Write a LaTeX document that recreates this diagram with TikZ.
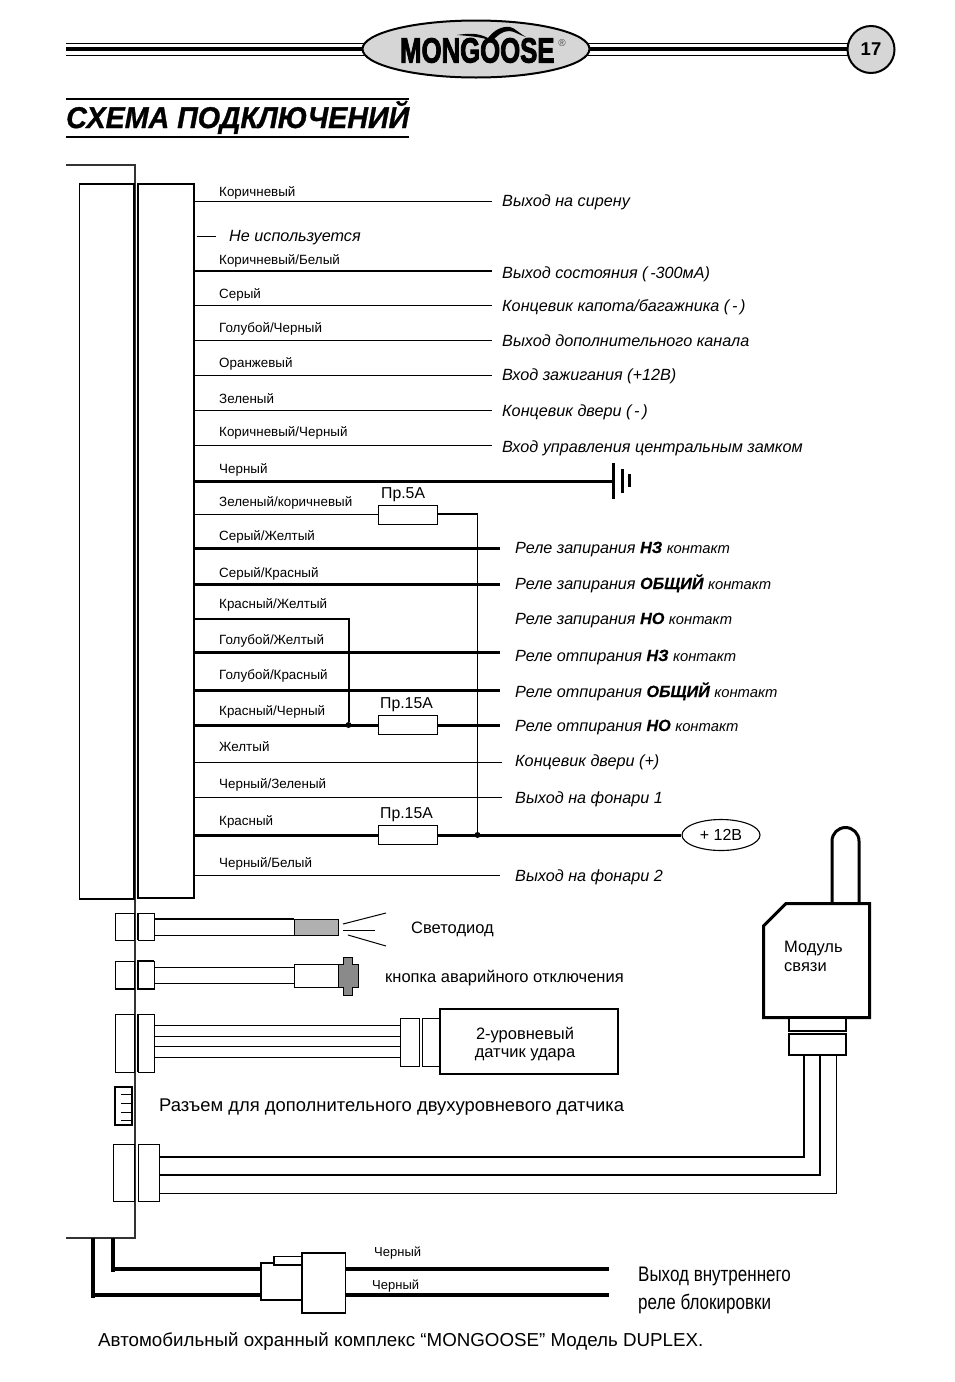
\documentclass[tikz,border=0pt]{standalone}
\usepackage{fontspec}
\usetikzlibrary{shapes.geometric}
\setmainfont{Liberation Sans}
\newfontfamily\logofont[FakeBold=3]{Liberation Sans Bold}
\newfontfamily\titlefont[FakeBold=1]{Liberation Sans Bold Italic}
\newfontfamily\heavyfont[FakeBold=.6]{Liberation Sans Bold Italic}
\newcommand{\fs}[1]{\fontsize{#1}{#1}\selectfont}
\newcommand{\relab}[2]{Реле #1 {\heavyfont\upshape #2} {\fs{14.8}контакт}}
\definecolor{panelgrey}{HTML}{D6D6D6}
\definecolor{ledgrey}{HTML}{B0B0B0}
\definecolor{btngrey}{HTML}{8A8A8A}
\definecolor{bodyline}{HTML}{333333}
\tikzset{
  wirethin/.style={draw=black,line width=1pt},
  wiremid/.style={draw=black,line width=2pt},
  wirethick/.style={draw=black,line width=3pt},
  boxthin/.style={draw=black,line width=1pt,fill=white},
  boxmid/.style={draw=black,line width=2pt,fill=white},
  fusebox/.style={draw=black,line width=1.2pt,fill=white,minimum width=59pt,minimum height=18.5pt,inner sep=0pt},
  wlab/.style={anchor=base west,inner sep=0pt,font=\fs{13.4}},
  rlab/.style={anchor=base west,inner sep=0pt,font=\fs{16.2}\itshape},
  flab/.style={anchor=base west,inner sep=0pt,font=\fs{15.8}},
  txt/.style={anchor=base west,inner sep=0pt,font=\fs{16.5}},
  jdot/.style={circle,fill=black,inner sep=0pt,minimum size=6pt},
}
\begin{document}
\begin{tikzpicture}[x=1pt,y=-1pt]
\useasboundingbox (0,0) rectangle (954,1382);
% header
\draw[wirethin] (66,43) -- (850,43);
\draw[line width=4pt] (66,49) -- (850,49);
\draw[wirethin] (66,55) -- (850,55);
\node[ellipse,draw=black,line width=2pt,fill=panelgrey,minimum width=227pt,minimum height=57pt,inner sep=0pt] (logo) at (476,49) {};
\node[circle,draw=black,line width=2pt,fill=panelgrey,minimum size=47pt,inner sep=0pt,font=\fs{18.5}\bfseries] (page) at (871,49.5) {17};
\node[anchor=base west,inner sep=0pt,xscale=.735] (brand) at (400,62.5) {\logofont\fs{35}MONGOOSE};
\fill[black] (457,35) .. controls (470,33) and (478,33) .. (488,38) .. controls (494,30) and (502,26) .. (510,27) .. controls (515,28) and (520,34) .. (526,37) .. controls (519,35) and (514,31) .. (509,31) .. controls (502,31) and (497,36) .. (492,41) .. controls (482,37) and (470,36) .. (457,35) -- cycle;
\node[inner sep=0pt,text=black!70,font=\fs{10}] (reg) at (562,43) {®};
% title
\draw[wiremid] (66,99) -- (409,99);
\draw[wiremid] (66,137) -- (409,137);
\node[anchor=base west,inner sep=0pt,xscale=.955] (title) at (66,128) {\titlefont\fs{30}СХЕМА ПОДКЛЮЧЕНИЙ};
% control unit outline
\draw[draw=bodyline,line width=2.5pt] (66,165) -- (135,165) -- (135,1238) -- (66,1238);
% main connector
\draw[boxthin,line width=1.3pt] (79.5,184) rectangle (134,899);
\draw[boxthin,line width=1.3pt] (138,184) rectangle (194,898);
% upper wires
\foreach \n/\y/\st/\xe in {a/201/wirethin/492,c/271/wiremid/492,d/305/wirethin/492,e/340/wirethin/492,f/375/wirethin/492,g/410/wirethin/492,h/445/wirethin/492}{
  \coordinate (\n w) at (194,\y); \coordinate (\n e) at (\xe,\y);
  \draw[\st] (\n w) -- (\n e);
}
\coordinate (bw) at (197,236); \coordinate (be) at (216,236);
\draw[wirethin] (bw) -- (be);
\node[wlab] (la) at (219,196) {Коричневый};
\node[wlab] (lc) at (219,264) {Коричневый/Белый};
\node[wlab] (ld) at (219,298) {Серый};
\node[wlab] (le) at (219,332) {Голубой/Черный};
\node[wlab] (lf) at (219,367) {Оранжевый};
\node[wlab] (lg) at (219,403) {Зеленый};
\node[wlab] (lh) at (219,436) {Коричневый/Черный};
\node[wlab] (li) at (219,473) {Черный};
\node[wlab] (lj) at (219,506) {Зеленый/коричневый};
\node[wlab] (lk) at (219,540) {Серый/Желтый};
\node[wlab] (ll) at (219,577) {Серый/Красный};
\node[wlab] (lm) at (219,608) {Красный/Желтый};
\node[wlab] (ln) at (219,644) {Голубой/Желтый};
\node[wlab] (lo) at (219,679) {Голубой/Красный};
\node[wlab] (lp) at (219,715) {Красный/Черный};
\node[wlab] (lq) at (219,751) {Желтый};
\node[wlab] (lr) at (219,788) {Черный/Зеленый};
\node[wlab] (ls) at (219,825) {Красный};
\node[wlab] (lt) at (219,867) {Черный/Белый};
\node[rlab] (ra) at (502,206) {Выход на сирену};
\node[rlab] (rb) at (229,241) {Не используется};
\node[rlab] (rc) at (502,278) {Выход состояния (\,-300мА)};
\node[rlab] (rd) at (502,311) {Концевик капота/багажника (\,-\,)};
\node[rlab] (re) at (502,346) {Выход дополнительного канала};
\node[rlab] (rf) at (502,380) {Вход зажигания (+12В)};
\node[rlab] (rg) at (502,416) {Концевик двери (\,-\,)};
\node[rlab] (rh) at (502,452) {Вход управления центральным замком};
\node[rlab] (rk) at (515,553) {\relab{запирания}{НЗ}};
\node[rlab] (rl) at (515,589) {\relab{запирания}{ОБЩИЙ}};
\node[rlab] (rm) at (515,624) {\relab{запирания}{НО}};
\node[rlab] (rn) at (515,661) {\relab{отпирания}{НЗ}};
\node[rlab] (ro) at (515,697) {\relab{отпирания}{ОБЩИЙ}};
\node[rlab] (rp) at (515,731) {\relab{отпирания}{НО}};
\node[rlab] (rq) at (515,766) {Концевик двери (+)};
\node[rlab] (rr) at (515,803) {Выход на фонари 1};
\node[rlab] (rt) at (515,881) {Выход на фонари 2};
% ground
\coordinate (gw) at (194,481); \coordinate (g1) at (613.5,481);
\draw[wirethick] (gw) -- (g1);
\draw[wirethick] (613.5,463) -- (613.5,499);
\draw[wirethick] (622.5,469) -- (622.5,493);
\draw[wirethick] (629.5,474) -- (629.5,487);
% lower wires
\foreach \n/\y/\st/\xe in {k/548/wirethick/500,l/584/wirethick/500,n/652/wirethick/500,o/690.5/wirethick/500,q/762/wirethin/502,r/797/wirethin/502,t/875/wirethin/500}{
  \coordinate (\n w) at (194,\y); \coordinate (\n e) at (\xe,\y);
  \draw[\st] (\n w) -- (\n e);
}
% fused wires
\node[fusebox] (f5) at (408,515) {};
\node[fusebox] (f15a) at (408,725) {};
\node[fusebox] (f15b) at (408,835) {};
\node[flab] (lf5) at (381,498) {Пр.5А};
\node[flab] (lf15a) at (380,708) {Пр.15А};
\node[flab] (lf15b) at (380,818) {Пр.15А};
\node[draw=black,ellipse,line width=1.1pt,fill=white,minimum width=78pt,minimum height=31pt,inner sep=0pt,font=\fs{16}] (pwr) at (721,835) {+ 12В};
\node[jdot] (j1) at (477.5,835) {};
\node[jdot] (j2) at (348.5,725) {};
\coordinate (jw) at (194,514); \coordinate (j15) at (194,725); \coordinate (jr) at (194,835);
\coordinate (p15) at (500,725); \coordinate (ycorner) at (477.5,514); \coordinate (mw) at (194,619); \coordinate (mc2) at (348.5,619);
\draw[wirethin] (jw) -- (f5.west |- jw);
\draw[wirethin,line width=1.3pt] (f5.east |- ycorner) -- (ycorner) -- (j1);
\draw[wirethick] (j15) -- (f15a.west);
\draw[wirethick] (f15a.east) -- (p15);
\draw[wirethick] (jr) -- (f15b.west);
\draw[wirethick] (f15b.east) -- (pwr.west);
\draw[wiremid] (mw) -- (mc2) -- (j2);
% LED
\draw[boxthin] (115,913) rectangle (134,940);
\draw[boxthin] (138,913) rectangle (154,940);
\draw[wiremid] (138,913) -- (138,940);
\draw[boxthin] (154,919) rectangle (294,935);
\draw[wiremid] (154,919) -- (294,919);
\draw[boxthin,fill=ledgrey] (294,919) rectangle (338,935);
\coordinate (r0) at (343,924); \coordinate (r1) at (386,913);
\draw[wirethin] (r0) -- (r1);
\draw[wirethin] (343,930) -- (375,930);
\draw[wirethin] (348,935) -- (386,946);
\node[txt] (led) at (411,933) {Светодиод};
% button
\draw[boxthin] (115,961) rectangle (134,989);
\draw[wiremid] (115,989) -- (134,989);
\draw[boxthin] (138,961) rectangle (154,989);
\draw[wiremid] (154,961) -- (138,961) -- (138,989) -- (154,989);
\draw[boxthin] (154,967) rectangle (294,983);
\draw[boxthin] (294,964) rectangle (338,987);
\draw[boxthin,fill=btngrey] (338,964) -- (343,964) -- (343,957) -- (352,957) -- (352,964) -- (358,964) -- (358,987) -- (352,987) -- (352,995) -- (343,995) -- (343,987) -- (338,987) -- cycle;
\node[txt] (btn) at (385,982) {кнопка аварийного отключения};
% shock sensor
\draw[boxthin] (115,1014) rectangle (134,1072);
\draw[boxthin] (138,1014) rectangle (154,1072);
\draw[wiremid] (138,1014) -- (138,1072);
\foreach \y in {1025,1036,1046,1057}{ \draw[wirethin] (154,\y) -- (400,\y); }
\draw[boxthin] (400,1018) rectangle (419,1066);
\draw[boxthin] (422,1018) rectangle (440,1066);
\node[draw=black,line width=2pt,fill=white,minimum width=178pt,minimum height=65pt,inner sep=0pt] (shock) at (529,1041.5) {};
\node[txt,anchor=base] (sh1) at (525,1039) {2-уровневый};
\node[txt,anchor=base] (sh2) at (525,1057) {датчик удара};
% aux connector
\draw[boxmid] (115,1087) rectangle (132,1125);
\foreach \y in {1094,1103,1112,1120}{ \draw[wirethin] (121,\y) -- (132,\y); }
\node[anchor=base west,inner sep=0pt,font=\fs{18.4}] (aux) at (159,1111) {Разъем для дополнительного двухуровневого датчика};
% comm module
\draw[boxthin] (113,1144) rectangle (134,1201);
\draw[boxthin] (138,1144) rectangle (159.5,1201);
\draw[line width=3pt,fill=white] (832,903) -- (832,841) arc[start angle=180,end angle=360,radius=13.5] -- (859,903);
\draw[boxmid,line width=3pt] (763.5,926) -- (786,903.5) -- (869.5,903.5) -- (869.5,1017.5) -- (763.5,1017.5) -- cycle;
\node[txt] (mod) at (784,952) {Модуль};
\node[txt] (mod2) at (784,971) {связи};
\draw[boxmid] (789,1018) rectangle (846,1031);
\draw[boxmid] (789,1034) rectangle (846,1055);
\coordinate (c1) at (159.5,1157); \coordinate (c2) at (159.5,1175); \coordinate (c3) at (159.5,1193);
\draw[wiremid] (c1) -- (804,1157) -- (804,1055);
\draw[wiremid] (c2) -- (820,1175) -- (820,1055);
\draw[wirethin] (c3) -- (836.5,1193) -- (836.5,1055);
% bottom relay
\coordinate (b1) at (93,1238); \coordinate (b2) at (113,1238);
\draw[boxmid,line width=1.2pt] (261,1263) rectangle (302,1300);
\draw[draw=black,line width=2pt] (261,1263) -- (261,1300);
\draw[boxmid,line width=1.5pt] (274,1256.5) rectangle (302,1265);
\draw[boxthin,line width=1.3pt] (302,1253) rectangle (345.5,1313);
\draw[line width=4.5pt] (b1) -- (93,1297.5);
\draw[line width=4pt] (93,1295) -- (261,1295);
\draw[line width=4.5pt] (b2) -- (113,1272);
\draw[line width=4pt] (113,1269) -- (261,1269);
\coordinate (o1) at (609,1269); \coordinate (o2) at (609,1295);
\draw[line width=4pt] (345.5,1269) -- (o1);
\draw[line width=4pt] (345.5,1295) -- (o2);
\node[wlab,font=\fs{13}] (k1) at (374,1256) {Черный};
\node[wlab,font=\fs{13}] (k2) at (372,1289) {Черный};
\node[anchor=base west,inner sep=0pt,xscale=.81,font=\fs{21}] (out1) at (638,1281) {Выход внутреннего};
\node[anchor=base west,inner sep=0pt,xscale=.81,font=\fs{21}] (out2) at (638,1309) {реле блокировки};
\node[anchor=base west,inner sep=0pt,font=\fs{18.75}] (foot) at (98,1346) {Автомобильный охранный комплекс “MONGOOSE” Модель DUPLEX.};
\end{tikzpicture}
\end{document}
